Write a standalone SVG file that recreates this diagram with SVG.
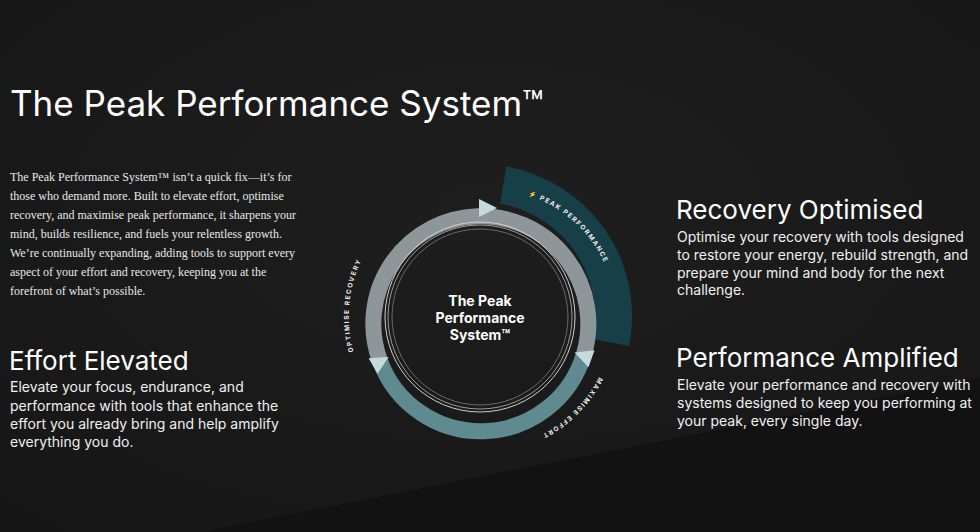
<svg xmlns="http://www.w3.org/2000/svg" width="980" height="532" viewBox="0 0 980 532">
<defs>
<radialGradient id="bg" cx="0.5" cy="0.4" r="0.8"><stop offset="0" stop-color="#1e1e1e"/><stop offset="1" stop-color="#161616"/></radialGradient>
<path id="pPeak" d="M 527.6 194.8 A 131 131 0 0 1 608 271"/>
<path id="pRec" d="M 353.6 351.7 A 131 131 0 0 1 363 257"/>
<path id="pMax" d="M 599 377 A 133 133 0 0 1 530 440"/>
<path id="tri" d="M -8 -9 L 10 0 L -8 9 Z"/>
</defs>
<style>
.s{font-family:Inter,"Liberation Sans",sans-serif;fill:#ffffff}
.serif{font-family:"Liberation Serif",serif;fill:#e8e8e8;font-size:12px}
.h{font-size:26px}
.b{font-size:14px;fill:#f0f0f0}
.arc{font-family:Inter,"Liberation Sans",sans-serif;font-size:6.5px;letter-spacing:1.5px;fill:#f0f0f0;font-weight:bold}
.arrow{fill:#c4dbdd}
</style>
<rect width="980" height="532" fill="url(#bg)"/>
<path d="M 200 532 L 980 378 L 980 532 Z" fill="#121212"/>
<text class="s" x="10" y="116" font-size="35">The Peak Performance System™</text>
<g class="serif">
<text x="10" y="181">The Peak Performance System™ isn’t a quick fix—it’s for</text>
<text x="10" y="200">those who demand more. Built to elevate effort, optimise</text>
<text x="10" y="219">recovery, and maximise peak performance, it sharpens your</text>
<text x="10" y="238">mind, builds resilience, and fuels your relentless growth.</text>
<text x="10" y="257">We’re continually expanding, adding tools to support every</text>
<text x="10" y="276">aspect of your effort and recovery, keeping you at the</text>
<text x="10" y="295">forefront of what’s possible.</text>
</g>
<g id="effort">
<text class="s h" x="9" y="370">Effort Elevated</text>
<text class="s b" x="10" y="392">Elevate your focus, endurance, and</text>
<text class="s b" x="10" y="411">performance with tools that enhance the</text>
<text class="s b" x="10" y="429">effort you already bring and help amplify</text>
<text class="s b" x="10" y="447">everything you do.</text>
</g>
<g id="recovery">
<text class="s h" x="676" y="219">Recovery Optimised</text>
<text class="s b" x="677" y="242">Optimise your recovery with tools designed</text>
<text class="s b" x="677" y="260">to restore your energy, rebuild strength, and</text>
<text class="s b" x="677" y="278">prepare your mind and body for the next</text>
<text class="s b" x="677" y="295">challenge.</text>
</g>
<g id="amplified">
<text class="s h" x="676" y="367">Performance Amplified</text>
<text class="s b" x="677" y="390">Elevate your performance and recovery with</text>
<text class="s b" x="677" y="408">systems designed to keep you performing at</text>
<text class="s b" x="677" y="426">your peak, every single day.</text>
</g>
<g id="cycle">
<path d="M 506.4 166.5 A 152 152 0 0 1 629.2 346 L 593 339 A 115 115 0 0 0 500 203.6 Z" fill="#173f48"/>
<path d="M 380 361 A 107.5 107.5 0 1 1 584 354" fill="none" stroke="#8d9799" stroke-width="16"/>
<path d="M 584 354 A 107.5 107.5 0 0 1 380 361" fill="none" stroke="#5f8a8f" stroke-width="16"/>
<circle cx="480" cy="317" r="95" fill="none" stroke="#cfcfcf" stroke-width="1"/>
<circle cx="480" cy="317" r="92" fill="none" stroke="#9a9a9a" stroke-width="1"/>
<circle cx="480" cy="317" r="88" fill="none" stroke="#6a6a6a" stroke-width="1"/>
<use href="#tri" class="arrow" transform="translate(487 208) rotate(0)"/>
<use href="#tri" class="arrow" transform="translate(584 356) rotate(-160)"/>
<use href="#tri" class="arrow" transform="translate(380 362) rotate(-30)"/>
<text class="s" font-size="14" font-weight="bold" text-anchor="middle"><tspan x="480" y="306">The Peak</tspan><tspan x="480" y="323">Performance</tspan><tspan x="480" y="340">System™</tspan></text>
<text class="arc"><textPath href="#pPeak">⚡ PEAK PERFORMANCE</textPath></text>
<text class="arc"><textPath href="#pRec">OPTIMISE RECOVERY</textPath></text>
<text class="arc"><textPath href="#pMax">MAXIMISE EFFORT</textPath></text>
</g>
</svg>
